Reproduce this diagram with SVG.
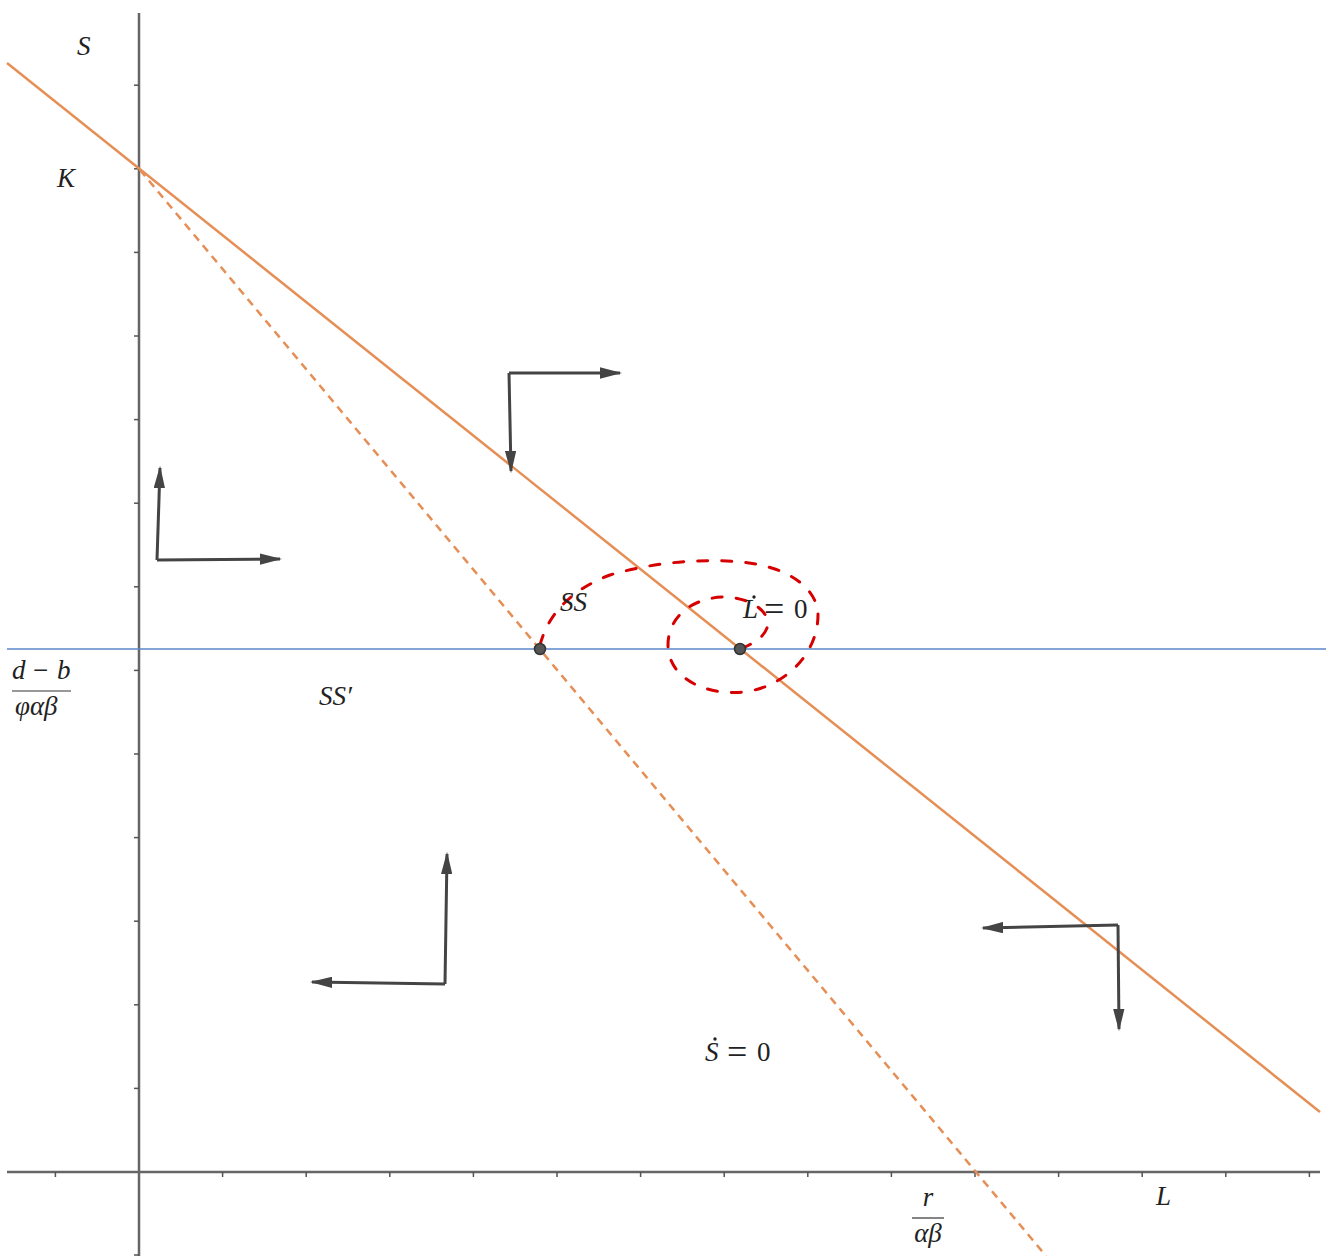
<svg xmlns="http://www.w3.org/2000/svg" width="1326" height="1256" viewBox="0 0 1326 1256">
<defs>
<style>
.axis{stroke:#666;stroke-width:2.5;fill:none}
.tick{stroke:#555;stroke-width:1.5}
.solid{stroke:#e58f56;stroke-width:2.5;fill:none}
.dash{stroke:#e58f56;stroke-width:2.5;fill:none;stroke-dasharray:8 6}
.blue{stroke:#5b87cb;stroke-width:1.5}
.spiral{stroke:#d70000;stroke-width:3;fill:none;stroke-dasharray:10 14;stroke-linecap:round}
.arr{stroke:#444;stroke-width:3;fill:none;marker-end:url(#ah)}
.m{font-family:"Liberation Serif","Times New Roman",serif;font-style:italic;font-size:27px;fill:#222}
.u{font-style:normal}
.eq{font-style:normal;font-size:36px}
.bar{stroke:#333;stroke-width:1.2}
.pt{fill:#555;stroke:#333;stroke-width:1.5}
</style>
<marker id="ah" viewBox="0 0 10 10" refX="9" refY="5" markerWidth="7.5" markerHeight="3.8" orient="auto" markerUnits="strokeWidth" preserveAspectRatio="none">
<path d="M0,0 L10,5 L0,10 z" fill="#444"/>
</marker>
</defs>
<rect width="1326" height="1256" fill="#fff"/>
<g id="axes">
<line class="axis" x1="139" y1="13" x2="139" y2="1256"/>
<line class="axis" x1="7" y1="1172" x2="1320" y2="1172"/>
<g id="yticks" class="tick">
<line x1="134" y1="85.2" x2="139" y2="85.2"/><line x1="134" y1="168.8" x2="139" y2="168.8"/>
<line x1="134" y1="252.4" x2="139" y2="252.4"/><line x1="134" y1="336" x2="139" y2="336"/>
<line x1="134" y1="419.6" x2="139" y2="419.6"/><line x1="134" y1="503.2" x2="139" y2="503.2"/>
<line x1="134" y1="586.8" x2="139" y2="586.8"/><line x1="134" y1="670.4" x2="139" y2="670.4"/>
<line x1="134" y1="754" x2="139" y2="754"/><line x1="134" y1="837.6" x2="139" y2="837.6"/>
<line x1="134" y1="921.2" x2="139" y2="921.2"/><line x1="134" y1="1004.8" x2="139" y2="1004.8"/>
<line x1="134" y1="1088.4" x2="139" y2="1088.4"/><line x1="134" y1="1255" x2="139" y2="1255"/>
</g>
<g id="xticks" class="tick">
<line x1="55.4" y1="1172" x2="55.4" y2="1177"/><line x1="222.6" y1="1172" x2="222.6" y2="1177"/>
<line x1="306.2" y1="1172" x2="306.2" y2="1177"/><line x1="389.8" y1="1172" x2="389.8" y2="1177"/>
<line x1="473.4" y1="1172" x2="473.4" y2="1177"/><line x1="557" y1="1172" x2="557" y2="1177"/>
<line x1="640.6" y1="1172" x2="640.6" y2="1177"/><line x1="724.2" y1="1172" x2="724.2" y2="1177"/>
<line x1="807.8" y1="1172" x2="807.8" y2="1177"/><line x1="891.4" y1="1172" x2="891.4" y2="1177"/>
<line x1="975" y1="1172" x2="975" y2="1177"/><line x1="1058.6" y1="1172" x2="1058.6" y2="1177"/>
<line x1="1142.2" y1="1172" x2="1142.2" y2="1177"/><line x1="1225.8" y1="1172" x2="1225.8" y2="1177"/>
<line x1="1309.4" y1="1172" x2="1309.4" y2="1177"/>
</g>
</g>
<g id="curves">
<line id="blue-line" class="blue" x1="7" y1="649" x2="1326" y2="649"/>
<line id="Ldot-line" class="solid" x1="7" y1="63" x2="1320" y2="1112"/>
<line id="Sdot-line" class="dash" x1="140" y1="170" x2="1046" y2="1256"/>
<path id="spiral" class="spiral" d="M540,645 C548,615 570,590 610,575 C650,563 700,558 740,562 C790,566 818,590 818,615 C818,650 790,685 745,692 C700,696 668,675 668,645 C668,615 695,597 725,597 C755,598 772,615 767,628 C763,638 755,642 745,647"/>
</g>
<g id="points">
<circle id="SS-point" class="pt" cx="540" cy="649" r="5.5"/>
<circle id="SSp-point" class="pt" cx="740" cy="649" r="5.5"/>
</g>
<g id="connectors">
<g id="arrows-top">
<line class="arr" x1="509" y1="373" x2="620" y2="373"/>
<line class="arr" x1="509" y1="373" x2="511" y2="471"/>
</g>
<g id="arrows-left">
<line class="arr" x1="157" y1="560" x2="160" y2="468"/>
<line class="arr" x1="157" y1="560" x2="280" y2="559"/>
</g>
<g id="arrows-bottom">
<line class="arr" x1="445" y1="984" x2="447" y2="854"/>
<line class="arr" x1="445" y1="984" x2="312" y2="982"/>
</g>
<g id="arrows-right">
<line class="arr" x1="1118" y1="925" x2="983" y2="928"/>
<line class="arr" x1="1118" y1="925" x2="1119" y2="1029"/>
</g>
</g>
<g id="labels">
<text id="lab-S" class="m" x="77" y="55">S</text>
<text id="lab-K" class="m" x="57" y="187">K</text>
<g id="lab-frac-left">
<text class="m" x="12" y="679">d<tspan class="u" x="33">−</tspan><tspan x="57">b</tspan></text>
<line class="bar" x1="12" y1="691" x2="71" y2="691"/>
<text class="m" x="15" y="715">φαβ</text>
</g>
<text id="lab-SS" class="m" x="560" y="611">SS</text>
<text id="lab-SSp" class="m" x="319" y="705">SS′</text>
<g id="lab-Ldot">
<text class="m" x="743" y="618">L<tspan class="eq" x="764" dy="3">=</tspan><tspan class="u" x="794" dy="-3">0</tspan></text>
<circle cx="754" cy="597" r="1.7" fill="#222"/>
</g>
<g id="lab-Sdot">
<text class="m" x="705" y="1061">S<tspan class="eq" x="727" dy="3">=</tspan><tspan class="u" x="757" dy="-3">0</tspan></text>
<circle cx="715" cy="1039" r="1.7" fill="#222"/>
</g>
<g id="lab-frac-bottom">
<text class="m" x="928" y="1206" text-anchor="middle">r</text>
<line class="bar" x1="912" y1="1218" x2="944" y2="1218"/>
<text class="m" x="928" y="1242" text-anchor="middle">αβ</text>
</g>
<text id="lab-L" class="m" x="1156" y="1205">L</text>
</g>
</svg>
